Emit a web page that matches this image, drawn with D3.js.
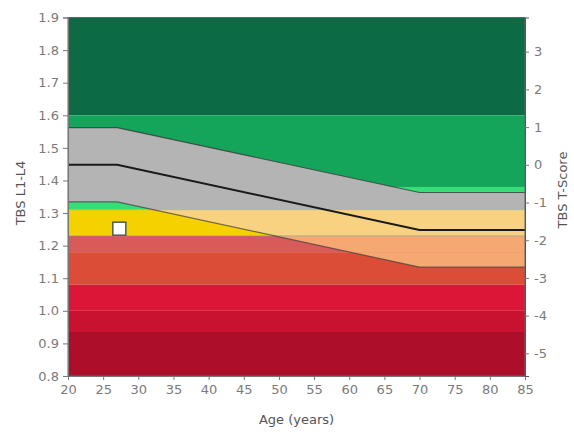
<!DOCTYPE html>
<html>
<head>
<meta charset="utf-8">
<script src="https://cdn.jsdelivr.net/npm/d3@7"></script>
<style>
  html, body { margin: 0; padding: 0; background: #fff; }
  svg { display: block; font-family: "DejaVu Sans", Verdana, sans-serif; }
</style>
</head>
<body>
<svg id="chart" width="574" height="432"></svg>
<script>
// Reference curve (age-matched mean and ±1 SD envelope)
const ages      = [20, 27, 70, 85];
const meanTBS   = [1.448, 1.448, 1.248, 1.248];
const upperTBS  = [1.562, 1.562, 1.363, 1.363];
const lowerTBS  = [1.334, 1.334, 1.134, 1.134];

// Patient measurement
const patientAge = [27.3];
const patientTBS = [1.252];

// Horizontal TBS zones (top to bottom) and their colours
const zoneBreaks     = [1.9, 1.6, 1.38, 1.31, 1.23, 1.18, 1.08, 1.0, 0.935, 0.8];
const zoneColors     = ["#0c6a44", "#14a55b", "#36de78", "#f5d100", "#d85b5a", "#db4d36", "#dc1636", "#c8122f", "#ad0f2a"];
const envelopeColors = ["#b4b4b4", "#b4b4b4", "#b4b4b4", "#f9d281", "#f6a873", "#f6a873", "#f6a873", "#f6a873", "#f6a873"];

// Axis ticks
const ageTicks    = [20, 25, 30, 35, 40, 45, 50, 55, 60, 65, 70, 75, 80, 85];
const tbsTicks    = [0.8, 0.9, 1.0, 1.1, 1.2, 1.3, 1.4, 1.5, 1.6, 1.7, 1.8, 1.9];
const tScoreTicks = [3, 2, 1, 0, -1, -2, -3, -4, -5];
const youngMean = 1.448, youngSD = 0.1157;

const svg = d3.select("#chart");
const m = { left: 68, right: 525, top: 17.5, bottom: 376 };

const x = d3.scaleLinear().domain([20, 85]).range([m.left, m.right]);
const y = d3.scaleLinear().domain([0.8, 1.9]).range([m.bottom, m.top]);
const yT = d3.scaleLinear()
  .domain([(0.8 - youngMean) / youngSD, (1.9 - youngMean) / youngSD])
  .range([m.bottom, m.top]);

const pts = ages.map((a, i) => ({ a, mean: meanTBS[i], up: upperTBS[i], lo: lowerTBS[i] }));

// Zones
const zones = zoneColors.map((c, i) => ({ top: zoneBreaks[i], bot: zoneBreaks[i + 1], c, e: envelopeColors[i] }));
svg.append("g").selectAll("rect").data(zones).join("rect")
  .attr("x", m.left).attr("width", m.right - m.left)
  .attr("y", d => y(d.top)).attr("height", d => y(d.bot) - y(d.top))
  .attr("fill", d => d.c);

// Envelope clip
const envArea = d3.area().x(d => x(d.a)).y0(d => y(d.lo)).y1(d => y(d.up));
svg.append("clipPath").attr("id", "env").append("path").attr("d", envArea(pts));
svg.append("g").attr("clip-path", "url(#env)")
  .selectAll("rect").data(zones).join("rect")
  .attr("x", m.left).attr("width", m.right - m.left)
  .attr("y", d => y(d.top)).attr("height", d => y(d.bot) - y(d.top))
  .attr("fill", d => d.e);

// Thin separators at 1.31 and 1.23
svg.append("g").selectAll("line").data([{ v: 1.31, o: 0.25 }, { v: 1.23, o: 0.55 }]).join("line")
  .attr("x1", m.left).attr("x2", m.right)
  .attr("y1", d => y(d.v)).attr("y2", d => y(d.v))
  .attr("stroke", "#7a9eae").attr("stroke-opacity", d => d.o).attr("stroke-width", 1);

// Envelope edges and mean line
const lineGen = key => d3.line().x(d => x(d.a)).y(d => y(d[key]));
svg.append("path").attr("d", lineGen("up")(pts)).attr("fill", "none")
  .attr("stroke", "#3a3a3a").attr("stroke-opacity", 0.8).attr("stroke-width", 1.2);
svg.append("path").attr("d", lineGen("lo")(pts)).attr("fill", "none")
  .attr("stroke", "#3a3a3a").attr("stroke-opacity", 0.7).attr("stroke-width", 1.2);
svg.append("path").attr("d", lineGen("mean")(pts)).attr("fill", "none")
  .attr("stroke", "#1a1a1a").attr("stroke-width", 2);

// Patient marker
svg.append("g").selectAll("rect").data(patientAge.map((a, i) => ({ a, v: patientTBS[i] }))).join("rect")
  .attr("x", d => x(d.a) - 6.5).attr("y", d => y(d.v) - 6.5)
  .attr("width", 13).attr("height", 13)
  .attr("fill", "#ffffff").attr("stroke", "#4b5e52").attr("stroke-width", 1.5);

// Frame
svg.append("rect").attr("x", m.left).attr("y", m.top)
  .attr("width", m.right - m.left).attr("height", m.bottom - m.top)
  .attr("fill", "none").attr("stroke", "#666").attr("stroke-width", 1);

// Axes
const styleAxis = g => {
  g.select(".domain").attr("stroke", "#777");
  g.selectAll(".tick line").attr("stroke", "#777");
  g.selectAll(".tick text").attr("fill", "#7a7a7a").attr("font-size", 13)
    .attr("font-family", "'DejaVu Sans', Verdana, sans-serif");
};
svg.append("g").attr("transform", `translate(0,${m.bottom})`)
  .call(d3.axisBottom(x).tickValues(ageTicks).tickSize(4).tickPadding(5).tickFormat(d3.format("d")))
  .call(styleAxis);
svg.append("g").attr("transform", `translate(${m.left},0)`)
  .call(d3.axisLeft(y).tickValues(tbsTicks).tickSize(5).tickPadding(4).tickFormat(d3.format(".1f")))
  .call(styleAxis);
svg.append("g").attr("transform", `translate(${m.right},0)`)
  .call(d3.axisRight(yT).tickValues(tScoreTicks).tickSize(4).tickPadding(5).tickFormat(d => d))
  .call(styleAxis)
  .call(g => g.select(".domain").attr("stroke", "#555"));

// Axis titles
const titleFont = "'DejaVu Sans', Verdana, sans-serif";
svg.append("text").attr("x", (m.left + m.right) / 2).attr("y", 424)
  .attr("text-anchor", "middle").attr("font-size", 13).attr("fill", "#555")
  .attr("font-family", titleFont).text("Age (years)");
svg.append("text").attr("transform", `translate(25,${193}) rotate(-90)`)
  .attr("text-anchor", "middle").attr("font-size", 13).attr("fill", "#555")
  .attr("font-family", titleFont).text("TBS L1-L4");
svg.append("text").attr("transform", `translate(567,${190}) rotate(-90)`)
  .attr("text-anchor", "middle").attr("font-size", 13).attr("fill", "#555")
  .attr("font-family", titleFont).text("TBS T-Score");
</script>
</body>
</html>
